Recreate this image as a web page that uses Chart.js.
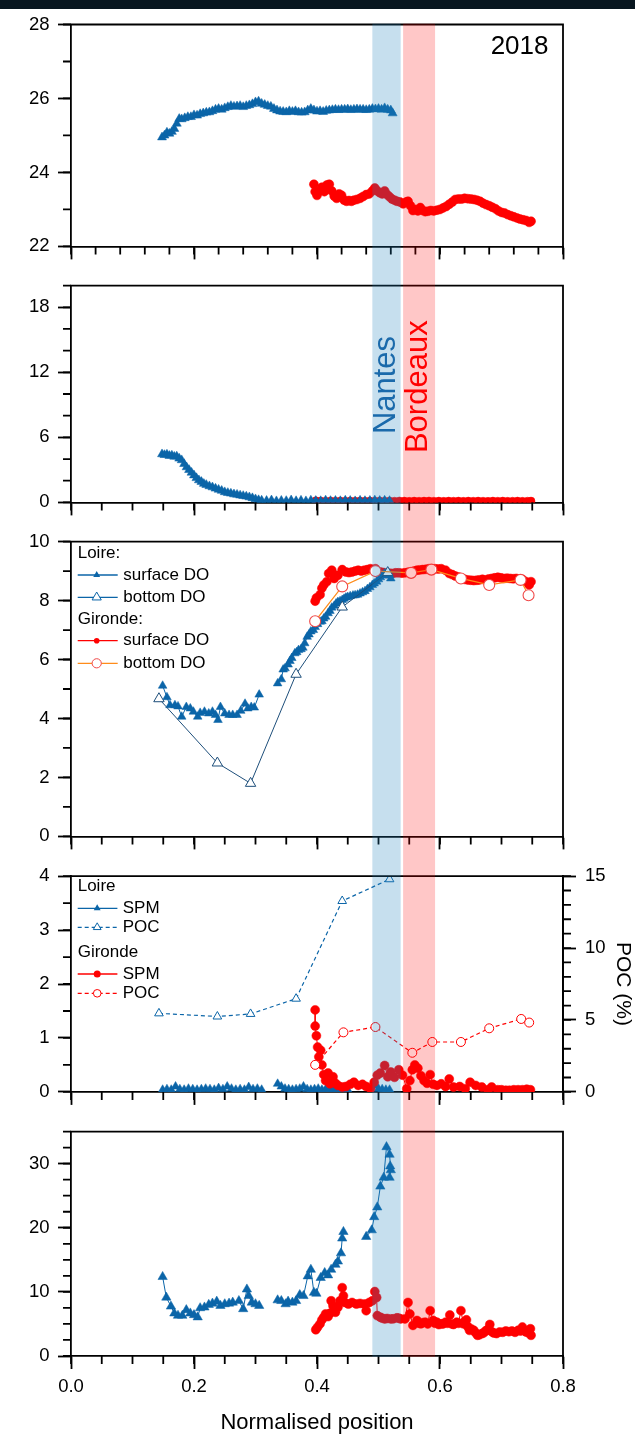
<!DOCTYPE html>
<html><head><meta charset="utf-8">
<script src="https://cdn.jsdelivr.net/npm/chart.js@4.4.1/dist/chart.umd.min.js"></script>
<style>
html,body{margin:0;padding:0;background:#fff;}
#wrap{position:relative;width:635px;height:1440px;overflow:hidden;background:#fff;}
canvas{position:absolute;left:0;display:block;}
#topbar{position:absolute;left:0;top:0;width:635px;height:9px;background:#08161f;z-index:5;}
</style></head><body>
<div id="wrap">
<div id="topbar"></div>
<canvas id="c1" width="635" height="266" style="top:0px"></canvas>
<canvas id="c2" width="635" height="256" style="top:266px"></canvas>
<canvas id="c3" width="635" height="334" style="top:522px"></canvas>
<canvas id="c4" width="635" height="256" style="top:856px"></canvas>
<canvas id="c5" width="635" height="328" style="top:1112px"></canvas>
</div>
<script>
// ---------------- tick labels ----------------
const xTickVals = [0, 0.2, 0.4, 0.6, 0.8];
const p1YTicks = [22, 24, 26, 28];
const p2YTicks = [0, 6, 12, 18];
const p3YTicks = [0, 2, 4, 6, 8, 10];
const p4YTicks = [0, 1, 2, 3, 4];
const p4Y2Ticks = [0, 5, 10, 15];
const p5YTicks = [0, 10, 20, 30];
const xTitle = 'Normalised position';
const y2Title = 'POC (%)';
const yearLabel = '2018';

// ---------------- bands ----------------
const bandNames = ['Nantes', 'Bordeaux'];
const bandFrom = [0.490, 0.540];
const bandTo = [0.536, 0.592];

// ---------------- panel 1 ----------------
const p1LoireX = [0.148,0.152,0.156,0.160,0.164,0.168,0.172,0.176,0.180,0.185,
 0.190,0.195,0.200,0.205,0.210,0.215,0.220,0.225,0.230,0.235,
 0.240,0.245,0.250,0.255,0.260,0.265,0.270,0.275,0.280,0.285,
 0.290,0.295,0.300,0.305,0.310,0.315,0.320,0.325,0.330,0.335,
 0.340,0.345,0.350,0.355,0.360,0.365,0.370,0.375,0.380,0.385,
 0.390,0.395,0.400,0.405,0.410,0.415,0.420,0.425,0.430,0.435,
 0.440,0.445,0.450,0.455,0.460,0.465,0.470,0.475,0.480,0.485,
 0.490,0.495,0.500,0.505,0.510,0.515,0.520,0.523];
const p1LoireY = [24.95,25.00,25.08,25.05,25.10,25.18,25.32,25.45,25.44,25.47,
 25.50,25.50,25.55,25.54,25.58,25.60,25.62,25.63,25.66,25.70,
 25.72,25.70,25.74,25.77,25.80,25.78,25.79,25.80,25.77,25.80,
 25.82,25.85,25.90,25.92,25.86,25.83,25.80,25.78,25.72,25.68,
 25.65,25.64,25.63,25.66,25.64,25.66,25.63,25.62,25.63,25.68,
 25.72,25.68,25.65,25.66,25.64,25.67,25.68,25.69,25.70,25.69,
 25.70,25.70,25.71,25.69,25.70,25.71,25.70,25.70,25.69,25.70,
 25.72,25.71,25.72,25.70,25.74,25.70,25.68,25.60];
const p1GirX = [0.395,0.397,0.400,0.404,0.408,0.412,0.416,0.420,0.424,0.428,
 0.432,0.436,0.440,0.444,0.448,0.452,0.456,0.460,0.465,0.470,
 0.475,0.480,0.485,0.490,0.494,0.498,0.502,0.506,0.510,0.514,
 0.518,0.522,0.526,0.530,0.535,0.540,0.545,0.548,0.552,0.556,
 0.560,0.564,0.568,0.572,0.576,0.580,0.585,0.590,0.595,0.600,
 0.605,0.610,0.615,0.620,0.625,0.630,0.635,0.640,0.645,0.650,
 0.655,0.660,0.665,0.670,0.675,0.680,0.685,0.690,0.695,0.700,
 0.705,0.710,0.715,0.720,0.725,0.730,0.735,0.740,0.745,0.748];
const p1GirY = [23.68,23.48,23.38,23.50,23.60,23.48,23.66,23.68,23.50,23.36,
 23.30,23.42,23.38,23.25,23.22,23.24,23.22,23.25,23.27,23.30,
 23.35,23.40,23.42,23.50,23.58,23.50,23.45,23.42,23.50,23.40,
 23.34,23.28,23.25,23.22,23.20,23.15,23.20,23.22,23.10,22.97,
 23.00,22.96,23.05,22.97,22.94,22.95,22.97,22.96,22.98,23.00,
 23.04,23.08,23.14,23.20,23.27,23.28,23.28,23.30,23.29,23.28,
 23.27,23.25,23.22,23.17,23.13,23.10,23.06,23.02,22.96,22.92,
 22.90,22.86,22.83,22.80,22.77,22.74,22.72,22.70,22.65,22.68];

// ---------------- panel 2 ----------------
const p2LoireX = [0.148,0.152,0.156,0.160,0.164,0.168,0.172,0.176,0.180,0.184,
 0.188,0.192,0.196,0.200,0.204,0.208,0.212,0.216,0.220,0.225,
 0.230,0.235,0.240,0.245,0.250,0.255,0.260,0.265,0.270,0.275,
 0.280,0.285,0.290,0.295,0.300,0.305,0.310,0.318,0.326,0.334,
 0.342,0.350,0.358,0.366,0.374,0.382,0.390,0.398,0.406,0.414,
 0.422,0.430,0.438,0.446,0.454,0.462,0.470,0.478,0.486,0.494,
 0.502,0.510,0.518];
const p2LoireY = [4.45,4.38,4.42,4.30,4.33,4.22,4.25,4.05,3.90,3.55,
 3.25,3.00,2.75,2.50,2.25,2.05,1.90,1.72,1.62,1.50,
 1.40,1.28,1.18,1.08,0.95,0.88,0.82,0.75,0.72,0.65,
 0.60,0.55,0.48,0.40,0.30,0.22,0.18,0.15,0.20,0.12,
 0.16,0.14,0.20,0.13,0.17,0.12,0.18,0.15,0.13,0.19,
 0.14,0.16,0.13,0.18,0.15,0.12,0.17,0.14,0.16,0.19,
 0.15,0.17,0.14];
const p2GirX = [0.398,0.406,0.414,0.422,0.430,0.438,0.446,0.454,0.462,0.470,
 0.478,0.486,0.494,0.502,0.510,0.518,0.526,0.534,0.542,0.550,
 0.558,0.566,0.574,0.582,0.590,0.598,0.606,0.614,0.622,0.630,
 0.638,0.646,0.654,0.662,0.670,0.678,0.686,0.694,0.702,0.710,
 0.718,0.726,0.734,0.742,0.748];
const p2GirY = [0.15,0.12,0.10,0.13,0.11,0.12,0.10,0.12,0.11,0.13,
 0.10,0.12,0.11,0.12,0.10,0.12,0.11,0.13,0.12,0.10,
 0.12,0.11,0.12,0.13,0.11,0.12,0.10,0.12,0.11,0.12,
 0.10,0.12,0.11,0.12,0.11,0.10,0.12,0.11,0.12,0.10,
 0.11,0.12,0.10,0.11,0.12];

// ---------------- panel 3 (DO) ----------------
const p3LoireSurfX = [0.149,0.156,0.161,0.169,0.174,0.180,0.1875,0.194,0.199,0.206,
 0.210,0.217,0.224,0.230,0.235,0.239,0.243,0.250,0.257,0.263,
 0.270,0.276,0.283,0.2875,0.293,0.298,0.306,0.320,0.336,0.342,
 0.345,0.348,0.353,0.356,0.359,0.364,0.367,0.370,0.374,0.377,
 0.380,0.384,0.387,0.390,0.394,0.397,0.401,0.405,0.408,0.411,
 0.414,0.418,0.421,0.424,0.428,0.431,0.434,0.4375,0.441,0.444,
 0.447,0.450,0.454,0.4585,0.462,0.466,0.470,0.474,0.478,0.482,
 0.486,0.490,0.493,0.497,0.500,0.503,0.506,0.510,0.515,0.518,
 0.520];
const p3LoireSurfY = [5.11,4.72,4.45,4.45,4.41,4.06,4.39,4.34,4.23,4.06,
 4.19,4.23,4.17,4.23,4.12,3.95,4.39,4.17,4.12,4.12,
 4.12,4.26,4.50,4.34,4.39,4.37,4.81,null,5.19,5.33,
 5.66,5.70,5.83,5.95,6.05,6.21,6.25,6.32,6.35,6.40,
 6.55,6.77,6.85,6.95,7.00,7.10,7.20,7.28,7.30,7.39,
 7.45,7.57,7.65,7.76,7.82,7.90,7.95,7.98,8.02,8.06,
 8.10,8.12,8.15,8.17,8.18,8.20,8.24,8.28,8.32,8.39,
 8.45,8.53,8.58,8.64,8.72,8.79,8.85,8.92,8.97,8.85,
 8.75];
const p3LoireBotX = [0.143,0.238,0.292,0.366,0.441,0.515];
const p3LoireBotY = [4.67,2.49,1.80,5.50,7.78,8.95];
const p3GirSurfX = [0.397,0.399,0.405,0.408,0.411,0.416,0.419,0.424,0.428,0.434,
 0.441,0.447,0.452,0.457,0.462,0.467,0.472,0.477,0.482,0.487,
 0.495,0.503,0.508,0.513,0.518,0.523,0.528,0.533,0.538,0.543,
 0.548,0.553,0.558,0.5625,0.567,0.572,0.577,0.582,0.587,0.592,
 0.597,0.602,0.609,0.615,0.620,0.625,0.630,0.635,0.640,0.645,
 0.650,0.655,0.660,0.664,0.669,0.674,0.679,0.684,0.689,0.694,
 0.699,0.704,0.709,0.714,0.719,0.724,0.729,0.734,0.740,0.745,
 0.748];
const p3GirSurfY = [7.98,8.09,8.20,8.42,8.53,8.64,8.92,9.03,8.75,8.86,
 9.05,8.97,8.95,8.97,9.00,9.03,9.00,9.03,9.05,9.08,
 9.08,8.97,8.95,8.92,8.93,8.92,8.94,8.94,8.93,8.94,
 8.96,8.97,9.00,9.03,9.04,9.05,9.06,9.08,9.07,9.08,
 9.07,9.08,9.03,8.92,8.88,8.83,8.80,8.75,8.72,8.70,
 8.69,8.68,8.69,8.70,8.72,8.70,8.73,8.75,8.77,8.79,
 8.77,8.75,8.76,8.75,8.74,8.75,8.73,8.72,8.64,8.53,
 8.64];
const p3GirBotX = [0.397,0.441,0.495,0.553,0.586,0.634,0.680,0.731,0.744];
const p3GirBotY = [7.30,8.48,9.00,8.94,9.05,8.75,8.53,8.70,8.18];

// ---------------- panel 4 (SPM / POC) ----------------
const p4LoireSpmX = [0.149,0.156,0.163,0.170,0.177,0.184,0.191,0.198,0.205,0.212,
 0.219,0.226,0.233,0.240,0.247,0.254,0.261,0.268,0.275,0.282,
 0.289,0.296,0.303,0.310,0.322,0.336,0.342,0.348,0.354,0.360,
 0.366,0.372,0.378,0.384,0.390,0.396,0.402,0.408,0.414,0.420,
 0.426,0.432,0.438,0.444,0.450,0.470,0.494,0.500,0.506,0.512,
 0.518];
const p4LoireSpmY = [0.04,0.05,0.04,0.10,0.05,0.04,0.06,0.05,0.04,0.05,
 0.06,0.05,0.04,0.07,0.05,0.10,0.06,0.04,0.05,0.04,
 0.09,0.05,0.06,0.04,null,0.15,0.10,0.06,0.05,0.04,
 0.05,0.06,0.10,0.05,0.04,0.05,0.06,0.04,0.05,0.04,
 0.05,0.04,0.05,0.06,0.04,null,0.12,0.06,0.05,0.04,
 0.04];
const p4LoirePocX = [0.143,0.238,0.292,0.366,0.441,0.518];
const p4LoirePocY = [5.46,5.24,5.42,6.48,13.27,14.78];
const p4GirSpmX = [0.397,0.397,0.399,0.401,0.403,0.406,0.408,0.411,0.414,0.418,
 0.421,0.426,0.430,0.434,0.441,0.447,0.454,0.460,0.467,0.474,
 0.480,0.487,0.493,0.498,0.503,0.510,0.515,0.520,0.526,0.533,
 0.539,0.546,0.551,0.555,0.559,0.564,0.569,0.574,0.579,0.584,
 0.589,0.595,0.602,0.609,0.615,0.622,0.632,0.641,0.649,0.658,
 0.668,0.678,0.684,0.694,0.700,0.707,0.713,0.720,0.727,0.734,
 0.741,0.747];
const p4GirSpmY = [1.52,1.22,1.04,0.83,0.65,0.77,0.50,0.32,0.21,0.35,
 0.15,0.28,0.16,0.12,0.09,0.10,0.14,0.18,0.12,0.14,
 0.10,0.06,0.18,0.31,0.35,0.49,0.28,0.37,0.27,0.41,
 0.31,0.06,0.21,0.41,0.50,0.44,0.30,0.21,0.16,0.32,
 0.14,0.12,0.15,0.10,0.24,0.09,0.10,0.06,0.18,0.12,
 0.09,0.04,0.09,0.04,0.04,0.03,0.03,0.04,0.04,0.04,
 0.05,0.04];
const p4GirPocX = [0.397,0.443,0.495,0.555,0.5875,0.634,0.680,0.732,0.745];
const p4GirPocY = [1.88,4.14,4.51,2.72,3.47,3.47,4.42,5.07,4.82];

// ---------------- panel 5 ----------------
const p5LoireX = [0.149,0.155,0.1625,0.168,0.174,0.181,0.1875,0.194,0.200,0.206,
 0.210,0.217,0.224,0.230,0.237,0.243,0.250,0.257,0.263,0.273,
 0.280,0.286,0.289,0.294,0.300,0.306,0.320,0.336,0.342,0.349,
 0.353,0.360,0.366,0.372,0.378,0.385,0.390,0.395,0.399,0.406,
 0.4125,0.418,0.423,0.430,0.434,0.439,0.441,0.443,0.460,0.480,
 0.489,0.493,0.498,0.503,0.5085,0.513,0.518,0.520,0.518,0.519];
const p5LoireY = [12.35,9.13,7.74,6.66,6.30,6.30,7.18,6.66,6.40,6.05,
 7.48,7.59,8.00,8.20,8.50,7.84,8.10,8.20,8.35,8.60,
 7.33,10.40,9.38,8.35,8.10,7.84,null,8.71,8.60,8.10,
 8.50,8.35,8.60,9.53,9.38,12.45,13.48,9.89,9.74,12.20,
 12.97,12.60,13.48,14.25,14.76,16.04,18.35,19.37,null,18.60,
 19.63,21.68,23.20,26.45,27.83,32.60,31.42,29.00,27.83,29.60];
const p5GirX = [0.398,0.401,0.405,0.408,0.411,0.414,0.418,0.421,0.423,0.426,
 0.430,0.434,0.4375,0.441,0.443,0.445,0.451,0.457,0.464,0.470,
 0.477,0.480,0.485,0.490,0.494,0.497,0.498,0.503,0.506,0.510,
 0.514,0.520,0.524,0.530,0.533,0.536,0.543,0.548,0.551,0.556,
 0.5625,0.566,0.569,0.572,0.576,0.580,0.584,0.589,0.592,0.595,
 0.598,0.602,0.605,0.609,0.612,0.616,0.619,0.622,0.627,0.630,
 0.634,0.638,0.640,0.643,0.645,0.648,0.651,0.655,0.658,0.661,
 0.664,0.668,0.671,0.674,0.677,0.681,0.684,0.6875,0.692,0.697,
 0.702,0.707,0.712,0.717,0.722,0.727,0.731,0.734,0.737,0.740,
 0.744,0.747,0.748];
const p5GirY = [4.10,4.51,5.02,5.64,6.05,6.56,6.15,6.66,8.61,7.84,
 6.82,7.59,8.61,10.66,9.38,8.35,8.10,8.35,8.10,8.20,
 8.10,7.07,8.35,8.61,10.05,9.12,6.30,6.05,5.90,5.79,
 5.85,5.79,5.80,5.95,5.90,5.79,5.79,8.35,6.56,4.77,
 5.54,5.10,5.02,5.20,5.28,5.00,7.07,5.54,5.10,5.28,
 4.90,5.02,5.00,5.28,5.10,6.40,5.00,4.92,5.28,5.10,
 7.07,5.02,5.40,5.64,4.60,4.00,4.20,4.00,3.60,3.23,
 3.30,3.49,3.60,3.90,4.10,4.92,3.80,3.59,3.50,3.74,
 3.70,3.90,3.80,3.90,3.70,4.00,3.90,4.51,4.00,3.74,
 3.60,4.25,3.23];

// ---------------- styling ----------------
const F = "'Liberation Sans', Arial, Helvetica, sans-serif";
const BLUE = '#0b65a8', NAVY = '#1d4e7a', RED = '#ff0000', ORANGE = '#ff8c1a', PINK = '#f04848';
const bandColors = ['rgba(28,128,188,0.25)', 'rgba(255,0,0,0.22)'];
const bandTextColors = ['#1a6aab', '#ff0000'];
const LW = 1.8, MAJ = 13, MIN = 8, TICKFONT = 18.5;
Chart.defaults.font.family = F;

function rng(a, b, s) { const r = []; for (let v = a; v <= b + 1e-9; v += s) r.push(Math.round(v * 1e6) / 1e6); return r; }
function pts(xs, ys) { return xs.map((x, i) => ({ x: x, y: ys[i] })); }

const gridOpt = { display: true, drawOnChartArea: false, drawTicks: true, tickLength: MAJ, tickWidth: LW, tickColor: '#000' };
const borderOpt = { display: true, color: '#000', width: LW };

function xAxis(labels, h, title) {
  return {
    type: 'linear', position: 'bottom', min: 0, max: 0.8,
    afterBuildTicks: s => { s.ticks = xTickVals.map(v => ({ value: v })); },
    afterFit: s => { s.height = h; },
    grid: gridOpt, border: borderOpt,
    ticks: { display: labels, padding: 7, color: '#000', font: { family: F, size: TICKFONT }, maxRotation: 0, autoSkip: false,
      callback: v => Number(v).toFixed(1) },
    title: title ? { display: true, text: title, color: '#000', font: { family: F, size: 22 }, padding: { top: 0, bottom: 4 } } : { display: false }
  };
}
function yAxis(pos, min, max, majors, w, title) {
  return {
    type: 'linear', position: pos, min: min, max: max,
    afterBuildTicks: s => { s.ticks = majors.map(v => ({ value: v })); },
    afterFit: s => { s.width = w; },
    grid: gridOpt, border: borderOpt,
    ticks: { padding: pos === 'left' ? 8.5 : 9, color: '#000', font: { family: F, size: TICKFONT }, autoSkip: false,
      callback: v => String(v) },
    title: title ? { display: true, text: title, color: '#000', font: { family: F, size: 21 }, padding: 0 } : { display: false }
  };
}
function ds(xs, ys, o) {
  return Object.assign({ data: pts(xs, ys), fill: false, tension: 0, borderWidth: 1, pointBorderWidth: 1, spanGaps: false }, o);
}
function tri(color, r) { return { borderColor: color, pointStyle: 'triangle', pointRadius: r, pointBackgroundColor: color, pointBorderColor: color, pointBorderWidth: 0.5 }; }
function dot(color, r) { return { borderColor: color, pointStyle: 'circle', pointRadius: r, pointBackgroundColor: color, pointBorderColor: color, pointBorderWidth: 0.5 }; }

function marker(c, style, x, y, r, fill, stroke, lw) {
  c.beginPath();
  if (style === 'triangle') {
    for (let k = 0; k < 3; k++) {
      const a = k * 2 * Math.PI / 3, px = x + Math.sin(a) * r, py = y - Math.cos(a) * r;
      if (k) c.lineTo(px, py); else c.moveTo(px, py);
    }
    c.closePath();
  } else c.arc(x, y, r, 0, Math.PI * 2);
  if (fill) { c.fillStyle = fill; c.fill(); }
  if (stroke) { c.strokeStyle = stroke; c.lineWidth = lw; c.stroke(); }
}
function drawLegend(c, top, items, geo) {
  c.font = '17px ' + F; c.textBaseline = 'middle'; c.textAlign = 'left';
  items.forEach(it => {
    const y = it.y - top;
    if (it.head) { c.fillStyle = '#000'; c.fillText(it.head, geo.x0, y); return; }
    c.save(); c.strokeStyle = it.line; c.lineWidth = 1.3; c.setLineDash(it.dash || []);
    c.beginPath(); c.moveTo(geo.x0, y); c.lineTo(geo.x1, y); c.stroke(); c.restore();
    marker(c, it.m, geo.xm, y, it.r, it.fill, it.stroke, 1);
    c.fillStyle = '#000'; c.fillText(it.text, geo.xt, y);
  });
}

function deco(cfg) {
  return {
    id: 'deco',
    afterDraw(chart) {
      const c = chart.ctx, a = chart.chartArea, xs = chart.scales.x, y = chart.scales.y, y2 = chart.scales.y2;
      c.save();
      c.strokeStyle = '#000'; c.lineWidth = LW; c.lineCap = 'butt';
      c.beginPath();
      c.moveTo(a.left - LW / 2, a.top); c.lineTo(a.right, a.top); c.lineTo(a.right, a.bottom + LW / 2);
      c.stroke();
      c.beginPath();
      cfg.mx.forEach(v => { const p = xs.getPixelForValue(v); c.moveTo(p, a.bottom); c.lineTo(p, a.bottom + MIN); });
      cfg.my.forEach(v => { const p = y.getPixelForValue(v); c.moveTo(a.left, p); c.lineTo(a.left - MIN, p); });
      if (y2 && cfg.my2) cfg.my2.forEach(v => { const p = y2.getPixelForValue(v); c.moveTo(a.right, p); c.lineTo(a.right + MIN, p); });
      c.stroke();
      const t = cfg.first ? a.top - LW / 2 : 0, b = cfg.last ? a.bottom + LW / 2 : chart.height;
      for (let i = 0; i < bandFrom.length; i++) {
        const x0 = xs.getPixelForValue(bandFrom[i]), x1 = xs.getPixelForValue(bandTo[i]);
        c.fillStyle = bandColors[i]; c.fillRect(x0, t, x1 - x0, b - t);
      }
      if (cfg.extra) cfg.extra(chart, c, xs);
      c.restore();
    }
  };
}

function make(id, datasets, scales, padTop, padRight, cfg) {
  return new Chart(document.getElementById(id), {
    type: 'line',
    data: { datasets: datasets },
    options: {
      responsive: false, animation: false, devicePixelRatio: 1, events: [],
      layout: { padding: { top: padTop, right: padRight, left: 0, bottom: 0 } },
      scales: scales,
      plugins: { legend: { display: false }, tooltip: { enabled: false } }
    },
    plugins: [deco(cfg)]
  });
}

// Panel 1
make('c1', [
  ds(p1LoireX, p1LoireY, tri(BLUE, 5.2)),
  ds(p1GirX, p1GirY, dot(RED, 4.5))
], { x: xAxis(false, 15), y: yAxis('left', 22, 28, p1YTicks, 71) }, 24.5, 72, {
  first: true, mx: rng(0, 0.8, 0.04), my: rng(22, 28, 1),
  extra: (ch, c) => { c.fillStyle = '#000'; c.font = '26px ' + F; c.textAlign = 'right'; c.textBaseline = 'middle'; c.fillText(yearLabel, 548.5, 47); }
});

// Panel 2
make('c2', [
  ds(p2LoireX, p2LoireY, tri(BLUE, 5.2)),
  ds(p2GirX, p2GirY, dot(RED, 4))
], { x: xAxis(false, 13.7), y: yAxis('left', 0, 20, p2YTicks, 71) }, 16.7, 72, {
  mx: rng(0, 0.8, 0.05), my: rng(0, 20, 2),
  extra: (ch, c, xs) => {
    c.font = '31px ' + F; c.textAlign = 'center'; c.textBaseline = 'alphabetic';
    const off = [6, 8], yc = [119, 120.7];
    for (let i = 0; i < bandNames.length; i++) {
      c.save(); c.translate(xs.getPixelForValue(bandTo[i]) - off[i], yc[i]); c.rotate(-Math.PI / 2);
      c.fillStyle = bandTextColors[i]; c.fillText(bandNames[i], 0, 0); c.restore();
    }
  }
});

// Panel 3
make('c3', [
  ds(p3GirBotX, p3GirBotY, { borderColor: ORANGE, borderWidth: 1.3, pointStyle: 'circle', pointRadius: 5.5, pointBackgroundColor: '#fff', pointBorderColor: PINK, pointBorderWidth: 1.1 }),
  ds(p3LoireBotX, p3LoireBotY, { borderColor: NAVY, borderWidth: 1, pointStyle: 'triangle', pointRadius: 6, pointBackgroundColor: '#fff', pointBorderColor: NAVY, pointBorderWidth: 1 }),
  ds(p3LoireSurfX, p3LoireSurfY, tri(BLUE, 5)),
  ds(p3GirSurfX, p3GirSurfY, dot(RED, 4.5))
], { x: xAxis(false, 15), y: yAxis('left', 0, 10, p3YTicks, 71) }, 17, 72, {
  mx: rng(0, 0.8, 0.05), my: rng(0, 10, 1),
  extra: (ch, c) => drawLegend(c, 522, [
    { head: 'Loire:', y: 553 },
    { text: 'surface DO', y: 575, line: BLUE, m: 'triangle', r: 4, fill: BLUE },
    { text: 'bottom DO', y: 597.3, line: BLUE, m: 'triangle', r: 5.3, fill: '#fff', stroke: BLUE },
    { head: 'Gironde:', y: 619.3 },
    { text: 'surface DO', y: 640.7, line: RED, m: 'circle', r: 2.8, fill: RED },
    { text: 'bottom DO', y: 663.3, line: ORANGE, m: 'circle', r: 4.6, fill: '#fff', stroke: PINK }
  ], { x0: 77.7, x1: 117.7, xm: 96.7, xt: 123.3 })
});

// Panel 4
make('c4', [
  ds(p4LoirePocX, p4LoirePocY, { yAxisID: 'y2', borderColor: BLUE, borderWidth: 1.2, borderDash: [4, 3], pointStyle: 'triangle', pointRadius: 5, pointBackgroundColor: '#fff', pointBorderColor: BLUE, pointBorderWidth: 1 }),
  ds(p4GirPocX, p4GirPocY, { yAxisID: 'y2', borderColor: RED, borderWidth: 1.2, borderDash: [4, 3], pointStyle: 'circle', pointRadius: 4.5, pointBackgroundColor: '#fff', pointBorderColor: RED, pointBorderWidth: 1 }),
  ds(p4GirSpmX, p4GirSpmY, Object.assign({ yAxisID: 'y' }, dot(RED, 4.5))),
  ds(p4LoireSpmX, p4LoireSpmY, Object.assign({ yAxisID: 'y' }, tri(BLUE, 5)))
], { x: xAxis(false, 13.7), y: yAxis('left', 0, 4, p4YTicks, 71), y2: yAxis('right', 0, 15, p4Y2Ticks, 72, y2Title) }, 16.3, 0, {
  mx: rng(0, 0.8, 0.05), my: rng(0, 4, 0.5), my2: rng(0, 15, 1),
  extra: (ch, c) => drawLegend(c, 856, [
    { head: 'Loire', y: 886 },
    { text: 'SPM', y: 908.3, line: BLUE, m: 'triangle', r: 4, fill: BLUE },
    { text: 'POC', y: 927.3, line: BLUE, dash: [4, 3], m: 'triangle', r: 4.5, fill: '#fff', stroke: BLUE },
    { head: 'Gironde', y: 952.7 },
    { text: 'SPM', y: 974, line: RED, m: 'circle', r: 3.5, fill: RED },
    { text: 'POC', y: 993.3, line: RED, dash: [4, 3], m: 'circle', r: 3.8, fill: '#fff', stroke: RED }
  ], { x0: 77.7, x1: 117.4, xm: 97.2, xt: 122.7 })
});

// Panel 5
make('c5', [
  ds(p5LoireX, p5LoireY, tri(BLUE, 5.4)),
  ds(p5GirX, p5GirY, dot(RED, 4.5))
], { x: xAxis(true, 84, xTitle), y: yAxis('left', 0, 35, p5YTicks, 71) }, 16.3, 72, {
  last: true, mx: rng(0, 0.8, 0.05), my: rng(0, 35, 2.5)
});
</script>
</body></html>
